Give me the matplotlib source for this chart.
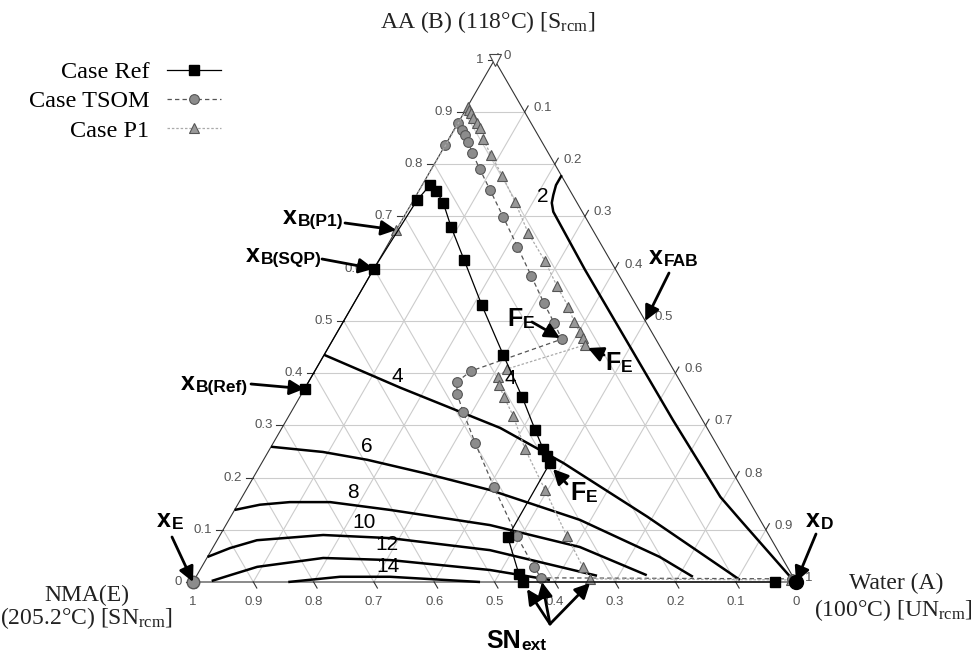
import numpy as np
import matplotlib.pyplot as plt

plt.rcParams['mathtext.fontset'] = 'custom'
plt.rcParams['mathtext.rm'] = 'Liberation Serif'
plt.rcParams['mathtext.it'] = 'Liberation Serif:italic'

H = np.sqrt(3) / 2
W_PX, H_PX = 971, 655
X0, Y0, SIDE = 193, 582, 603   # triangle base corner and side, in pixels

# composition profiles: water (A) and acetic acid (B) mole fractions
ref_water = [0.0, 0.0, 0.006, 0.013, 0.029, 0.052, 0.088, 0.141, 0.214, 0.297, 0.369,
             0.422, 0.453, 0.466, 0.478, 0.479, 0.533, 0.547, 0.965]
ref_aa = [0.37, 0.60, 0.731, 0.760, 0.749, 0.726, 0.680, 0.617, 0.530, 0.435, 0.354,
          0.291, 0.255, 0.241, 0.228, 0.086, 0.015, 0.0, 0.0]

tsom_water = [0.0, 0.0, 0.013, 0.023, 0.035, 0.052, 0.080, 0.117, 0.165, 0.217, 0.268,
              0.315, 0.351, 0.379, 0.259, 0.246, 0.258, 0.285, 0.335, 0.408, 0.493,
              0.551, 0.573, 0.99]
tsom_aa = [0.837, 0.879, 0.866, 0.856, 0.843, 0.822, 0.791, 0.751, 0.699, 0.642, 0.586,
           0.534, 0.496, 0.465, 0.404, 0.383, 0.360, 0.326, 0.266, 0.182, 0.088,
           0.029, 0.008, 0.006]

p1_water = [0.0, 0.001, 0.006, 0.012, 0.020, 0.032, 0.041, 0.057, 0.085, 0.124, 0.170,
            0.222, 0.276, 0.320, 0.359, 0.383, 0.402, 0.413, 0.423, 0.317, 0.310,
            0.319, 0.339, 0.372, 0.423, 0.496, 0.576, 0.632, 0.655, 0.99]
p1_aa = [0.674, 0.910, 0.904, 0.898, 0.889, 0.879, 0.869, 0.848, 0.818, 0.778, 0.728,
         0.668, 0.615, 0.567, 0.527, 0.498, 0.479, 0.467, 0.454, 0.408, 0.393,
         0.377, 0.354, 0.318, 0.255, 0.176, 0.088, 0.029, 0.006, 0.004]

# iso-lines (labelled 2 ... 14)
iso_levels = ['2', '4', '6', '8', '10', '12', '14']
iso_water = [
    [0.222, 0.222, 0.227, 0.232, 0.243, 0.351, 0.641, 0.793, 0.848, 0.993],
    [0.0, 0.158, 0.362, 0.500, 0.691, 0.905],
    [0.0, 0.091, 0.172, 0.277, 0.405, 0.582, 0.750, 0.824],
    [0.0, 0.037, 0.084, 0.151, 0.258, 0.438, 0.608, 0.746],
    [0.0, 0.029, 0.066, 0.171, 0.285, 0.462, 0.664],
    [0.030, 0.055, 0.092, 0.193, 0.306, 0.481, 0.590],
    [0.158, 0.239, 0.322, 0.476],
]
iso_aa = [
    [0.779, 0.760, 0.741, 0.726, 0.709, 0.598, 0.310, 0.163, 0.119, 0.004],
    [0.435, 0.372, 0.295, 0.228, 0.125, 0.004],
    [0.259, 0.249, 0.234, 0.209, 0.176, 0.119, 0.048, 0.010],
    [0.138, 0.148, 0.153, 0.153, 0.138, 0.109, 0.067, 0.013],
    [0.048, 0.065, 0.080, 0.090, 0.084, 0.061, 0.012],
    [0.002, 0.013, 0.029, 0.046, 0.042, 0.023, 0.004],
    [0.0, 0.010, 0.010, 0.0],
]

ticks = [round(0.1 * i, 1) for i in range(11)]
tick_labels = ['0' if t == 0 else '1' if t == 1 else str(t) for t in ticks]


def tern(water, aa):
    water = np.asarray(water, float)
    aa = np.asarray(aa, float)
    return water + aa / 2, aa * H


def pix(x, y):
    # pixel position -> axes data position
    return (x - X0) / SIDE, (Y0 - y) / SIDE


fig = plt.figure(figsize=(W_PX / 100, H_PX / 100), dpi=100)
ax = fig.add_axes([0, 0, 1, 1])
ax.set_xlim(-X0 / SIDE, (W_PX - X0) / SIDE)
ax.set_ylim((Y0 - H_PX) / SIDE, Y0 / SIDE)
ax.axis('off')

# grid
for v in ticks[1:-1]:
    for a, b in [((0, v), (1 - v, v)), ((v, 0), (v, 1 - v)), ((1 - v, 0), (0, 1 - v))]:
        xs, ys = tern([a[0], b[0]], [a[1], b[1]])
        ax.plot(xs, ys, color='#cccccc', lw=0.8, zorder=1)

# triangle frame
fx, fy = tern([0, 1, 0, 0], [0, 0, 1, 0])
ax.plot(fx, fy, color='#333333', lw=0.8, zorder=2)

# ticks and tick labels
tl = 7 / SIDE
lab_kw = dict(fontsize=9.5, color='#555555', family='Liberation Sans')
for t, s in zip(ticks, tick_labels):
    # left side: acetic acid
    x, y = tern(0, t)
    ax.plot([x, x - tl], [y, y], color='#333333', lw=0.8)
    ax.text(x - 11 / SIDE, y, s, ha='right', va='center', **lab_kw)
    # right side: water
    x, y = tern(t, 1 - t)
    ax.plot([x, x + tl * 0.5], [y, y + tl * H], color='#333333', lw=0.8)
    ax.text(x + 9 / SIDE, y + 4 / SIDE, s, ha='left', va='center', **lab_kw)
    # bottom: NMA
    x, y = tern(1 - t, 0)
    ax.plot([x, x + tl * 0.5], [y, y - tl * H], color='#333333', lw=0.8)
    ax.text(x, y - 20 / SIDE, s, ha='center', va='center', **lab_kw)

# iso-lines
for wv, av in zip(iso_water, iso_aa):
    xs, ys = tern(wv, av)
    ax.plot(xs, ys, color='black', lw=1.8, zorder=3, solid_capstyle='butt')

num_kw = dict(fontsize=15, family='Liberation Sans', ha='center', va='center', zorder=6)
for s, (px, py) in zip(iso_levels + ['4'],
                       [(543, 197), (397, 376), (367, 447), (353, 493), (364, 523),
                        (387, 545), (388, 566), (510, 378)]):
    ax.text(*pix(px, py), s, **num_kw)

# profiles
x, y = tern(ref_water, ref_aa)
ax.plot(x, y, '-', color='black', lw=0.9, marker='s', ms=7, mfc='black', mec='black',
        zorder=5, label='Case Ref')
x, y = tern(tsom_water, tsom_aa)
ax.plot(x, y, color='#555555', lw=0.9, dashes=(3.5, 2.5), marker='o', ms=7,
        mfc='#8c8c8c', mec='#555555', mew=0.8, zorder=4, label='Case TSOM')
x, y = tern(p1_water, p1_aa)
ax.plot(x, y, color='#aaaaaa', lw=0.9, dashes=(2, 1.5), marker='^', ms=7.5,
        mfc='#999999', mec='#555555', mew=0.8, zorder=4, label='Case P1')

# feed / product points
ax.plot(*tern(0, 0), 'o', ms=9, mfc='#8c8c8c', mec='#555555', zorder=7)
ax.plot(*tern(1, 0), 'o', ms=10, color='black', zorder=7)
ax.plot(*tern(0, 1), 'v', ms=8, mfc='white', mec='#444444', mew=0.8, zorder=7)

leg = ax.legend(loc='upper right', bbox_to_anchor=(233 / W_PX, 1 - 49 / H_PX),
                frameon=False, markerfirst=False, handlelength=2.2, handletextpad=0.75,
                labelspacing=0.3, borderpad=0, numpoints=1,
                prop={'family': 'Liberation Serif', 'size': 17.5})

# corner names
ser = dict(family='Liberation Serif', fontsize=17, color='#222222', ha='center', va='center')
ax.text(*pix(488, 22), r'AA (B) (118°C) [S$_{\mathrm{rcm}}$]', **ser)
ax.text(*pix(87, 595), 'NMA(E)', **ser)
ax.text(*pix(86, 618), r'(205.2°C) [SN$_{\mathrm{rcm}}$]', **ser)
ax.text(*pix(896, 583), 'Water (A)', **ser)
ax.text(*pix(893, 610), r'(100°C) [UN$_{\mathrm{rcm}}$]', **ser)

# annotations with arrows
bold = dict(family='Liberation Sans', fontweight='bold', color='black')
arrow = dict(arrowstyle='-|>,head_length=0.9,head_width=0.45', lw=2, color='black',
             shrinkA=0, shrinkB=0)


def note(tx, ty, main, sub, tips, src, big=18, small=12.5):
    t = ax.text(*pix(tx, ty), main, fontsize=big, ha='left', va='baseline', zorder=8, **bold)
    ax.annotate(sub, xy=(1, 0), xycoords=t, xytext=(0.5, 0), textcoords='offset points',
                fontsize=small, ha='left', va='bottom', zorder=8, **bold)
    for tip in tips:
        ax.annotate('', xy=tip, xytext=pix(*src), arrowprops=arrow, zorder=8)


note(283, 224, 'x', 'B(P1)', [tern(0.0, 0.674)], (345, 223))
note(246, 262, 'x', 'B(SQP)', [tern(0.0, 0.60)], (322, 259))
note(181, 390, 'x', 'B(Ref)', [tern(0.0, 0.37)], (251, 384))
note(157, 527, 'x', 'E', [tern(0.0, 0.0)], (172, 537))
note(806, 527, 'x', 'D', [tern(1.0, 0.0)], (816, 534))
note(649, 264, 'x', 'FAB', [tern(0.5, 0.5)], (669, 273))
note(507, 326, 'F', 'E', [pix(560, 338)], (532, 322))
note(605, 370, 'F', 'E', [pix(588, 348)], (604, 355))
note(570, 500, 'F', 'E', [pix(553, 469)], (567, 484))
note(486, 648, 'SN', 'ext', [pix(527, 589), pix(542, 582), pix(590, 583)], (550, 624))

fig.savefig('out.png', dpi=100)
